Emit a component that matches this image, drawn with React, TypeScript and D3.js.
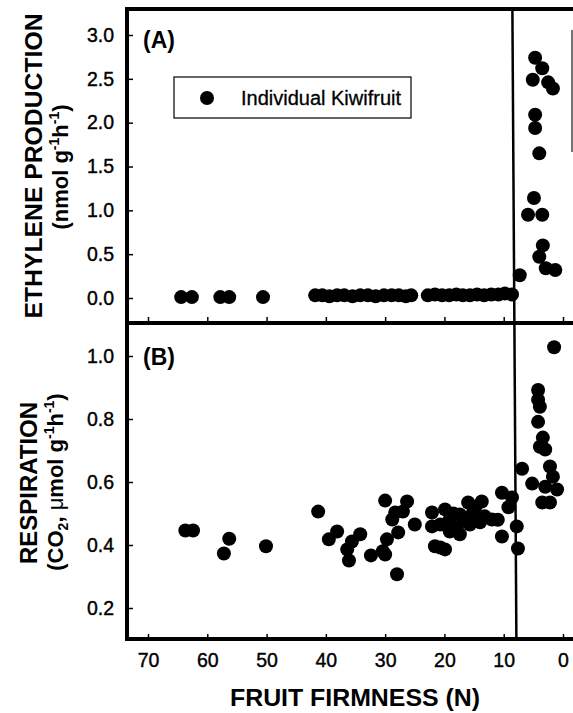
import React, { useEffect, useRef } from 'react';
import * as d3 from 'd3';

// Panel A: ethylene production vs fruit firmness
const ethyleneFirmness = [
  64.4, 62.6, 57.8, 56.3, 50.6,
  41.8, 40.6, 39.4, 38.1, 36.9, 35.5, 34.2, 32.9, 31.6, 30.2, 28.9, 27.7, 26.5, 25.6,
  22.8, 21.6, 20.4, 19.2, 18.0, 16.9, 15.7, 14.5, 13.3, 12.1, 10.9, 9.8, 8.6,
  7.3, 5.9, 3.5, 4.9, 4.0, 4.7, 4.7, 4.7, 3.5, 5.1, 2.5, 1.7, 3.4, 4.0, 2.9, 1.3,
];
const ethyleneValues = [
  0.01, 0.01, 0.01, 0.01, 0.01,
  0.03, 0.03, 0.02, 0.03, 0.03, 0.02, 0.03, 0.03, 0.02, 0.03, 0.03, 0.03, 0.02, 0.03,
  0.03, 0.04, 0.03, 0.03, 0.04, 0.03, 0.03, 0.04, 0.03, 0.04, 0.04, 0.05, 0.04,
  0.26, 0.95, 0.95, 1.14, 1.65, 1.94, 2.09, 2.74, 2.62, 2.49, 2.46, 2.39, 0.6, 0.47, 0.34, 0.32,
];

// Panel B: respiration vs fruit firmness
const respFirmness = [
  63.7, 62.4, 56.3, 57.2, 50.1,
  41.3, 38.1, 39.5, 34.2, 35.6, 36.4, 36.1, 32.4, 30.0, 29.7, 28.8, 28.0, 30.0, 26.3, 28.3,
  27.0, 25.0, 27.8, 30.4,
  22.1, 19.9, 22.1, 20.7, 21.6, 19.9, 16.0, 13.7, 17.4, 19.1, 15.2, 13.2, 12.0, 17.9, 15.7,
  14.0, 17.4, 20.7, 19.1, 18.5, 16.5, 14.8, 11.0,
  10.3, 8.6, 9.2, 7.8, 10.3, 7.6,
  6.9, 5.2, 3.0, 1.0, 3.5, 2.2, 2.2, 1.7,
  1.5, 4.2, 4.2, 3.9, 4.2, 3.4, 3.9, 3.0,
];
const respValues = [
  0.446, 0.446, 0.42, 0.373, 0.396,
  0.506, 0.443, 0.418, 0.434, 0.411, 0.386, 0.351, 0.367, 0.37, 0.418, 0.481, 0.307, 0.541, 0.538, 0.503,
  0.506, 0.465, 0.44, 0.38,
  0.503, 0.513, 0.459, 0.392, 0.396, 0.386, 0.535, 0.538, 0.497, 0.481, 0.503, 0.491, 0.481, 0.456, 0.465,
  0.472, 0.434, 0.465, 0.443, 0.5, 0.48, 0.52, 0.48,
  0.566, 0.551, 0.52, 0.459, 0.427, 0.389,
  0.642, 0.595, 0.585, 0.576, 0.535, 0.535, 0.649, 0.617,
  1.028, 0.892, 0.861, 0.839, 0.791, 0.741, 0.712, 0.703,
];

const xTicks = [70, 60, 50, 40, 30, 20, 10, 0];
const ethyleneTicks = [0, 0.5, 1.0, 1.5, 2.0, 2.5, 3.0];
const respTicks = [0.2, 0.4, 0.6, 0.8, 1.0];
const dividerFirmness = 8.2;

const FONT = '"Liberation Sans", Arial, Helvetica, sans-serif';

const App = () => {
  const svgRef = useRef<SVGSVGElement>(null);

  useEffect(() => {
    const svg = d3.select(svgRef.current);
    svg.selectAll('*').remove();

    const width = 573;
    const height = 713;
    const left = 127;
    const right = 573;
    const topA = 9;
    const mid = 323;
    const bottom = 639;

    const x = d3.scaleLinear().domain([70, 0]).range([148, 563]);
    const yA = d3.scaleLinear().domain([0, 3]).range([298, 35]);
    const yB = d3.scaleLinear().domain([0.2, 1.0]).range([608, 356]);

    svg.attr('width', width).attr('height', height).style('font-family', FONT);

    // Y axes (ticks pointing inward)
    const axisA = svg.append('g')
      .attr('transform', `translate(${left},0)`)
      .call(d3.axisLeft(yA).tickValues(ethyleneTicks).tickSize(-6).tickPadding(13).tickFormat(d3.format('.1f')));
    const axisB = svg.append('g')
      .attr('transform', `translate(${left},0)`)
      .call(d3.axisLeft(yB).tickValues(respTicks).tickSize(-6).tickPadding(13).tickFormat(d3.format('.1f')));

    // X axes at bottom of each panel
    const axisXA = svg.append('g')
      .attr('transform', `translate(0,${mid - 1})`)
      .call(d3.axisBottom(x).tickValues(xTicks).tickSize(-5).tickFormat(() => ''));
    const axisXB = svg.append('g')
      .attr('transform', `translate(0,${bottom})`)
      .call(d3.axisBottom(x).tickValues(xTicks).tickSize(-5).tickPadding(14).tickFormat(d3.format('d')));

    [axisA, axisB, axisXA, axisXB].forEach(g => {
      g.select('.domain').remove();
      g.selectAll('line').attr('stroke', '#000').attr('stroke-width', 1.5);
      g.selectAll('text')
        .attr('fill', '#000')
        .attr('stroke', '#000')
        .attr('stroke-width', 0.4)
        .style('font-family', FONT)
        .style('font-size', '19.5px');
    });

    // Frame
    const frame = svg.append('g').attr('stroke', '#000').attr('stroke-width', 4).attr('fill', 'none');
    frame.append('line').attr('x1', left).attr('x2', left).attr('y1', topA - 2).attr('y2', bottom + 2);
    frame.append('line').attr('x1', left).attr('x2', right).attr('y1', topA).attr('y2', topA);
    frame.append('line').attr('x1', left).attr('x2', right).attr('y1', mid).attr('y2', mid);
    frame.append('line').attr('x1', left).attr('x2', right).attr('y1', bottom).attr('y2', bottom);

    // partial right border left by the scan
    svg.append('line')
      .attr('x1', 572).attr('x2', 572).attr('y1', 30).attr('y2', 152)
      .attr('stroke', '#444').attr('stroke-width', 1.5);

    // Vertical divider line
    svg.append('line')
      .attr('x1', x(dividerFirmness) - 2).attr('x2', x(dividerFirmness) + 2)
      .attr('y1', topA).attr('y2', bottom)
      .attr('stroke', '#000').attr('stroke-width', 2.5);

    // Points
    const r = 7;
    svg.append('g')
      .selectAll('circle')
      .data(ethyleneFirmness.map((f, i) => [f, ethyleneValues[i]]))
      .join('circle')
      .attr('cx', d => x(d[0]))
      .attr('cy', d => yA(d[1]))
      .attr('r', r)
      .attr('fill', '#000');

    svg.append('g')
      .selectAll('circle')
      .data(respFirmness.map((f, i) => [f, respValues[i]]))
      .join('circle')
      .attr('cx', d => x(d[0]))
      .attr('cy', d => yB(d[1]))
      .attr('r', r)
      .attr('fill', '#000');

    // Panel labels
    svg.append('text').attr('x', 143).attr('y', 48)
      .style('font-size', '23px').style('font-weight', 'bold').text('(A)');
    svg.append('text').attr('x', 143).attr('y', 365)
      .style('font-size', '23px').style('font-weight', 'bold').text('(B)');

    // Legend
    const legend = svg.append('g');
    legend.append('rect')
      .attr('x', 174).attr('y', 77).attr('width', 237).attr('height', 41)
      .attr('fill', '#fff').attr('stroke', '#000').attr('stroke-width', 1.2);
    legend.append('circle').attr('cx', 207).attr('cy', 98).attr('r', r).attr('fill', '#000');
    legend.append('text').attr('x', 241).attr('y', 105)
      .attr('stroke', '#000').attr('stroke-width', 0.3)
      .attr('textLength', 160).attr('lengthAdjust', 'spacingAndGlyphs')
      .style('font-size', '20px').text('Individual Kiwifruit');

    // Y titles
    const ytitle = (tx: number, ty: number) =>
      svg.append('text')
        .attr('transform', `translate(${tx},${ty}) rotate(-90)`)
        .attr('text-anchor', 'middle')
        .style('font-weight', 'bold');

    ytitle(42, 166).style('font-size', '24px')
      .attr('textLength', 305).attr('lengthAdjust', 'spacingAndGlyphs')
      .text('ETHYLENE PRODUCTION');

    const unitA = ytitle(68, 167).style('font-size', '22px');
    unitA.append('tspan').text('(nmol g');
    unitA.append('tspan').attr('dy', -9).style('font-size', '14px').text('-1');
    unitA.append('tspan').attr('dy', 9).text('h');
    unitA.append('tspan').attr('dy', -9).style('font-size', '14px').text('-1');
    unitA.append('tspan').attr('dy', 9).text(')');

    ytitle(37, 483).style('font-size', '24px').text('RESPIRATION');

    const unitB = ytitle(63, 482).style('font-size', '22px');
    unitB.append('tspan').text('(CO');
    unitB.append('tspan').attr('dy', 5).style('font-size', '14px').text('2');
    unitB.append('tspan').attr('dy', -5).text(', ');
    unitB.append('tspan').style('font-weight', 'normal').text('\u03bc');
    unitB.append('tspan').text('mol g');
    unitB.append('tspan').attr('dy', -9).style('font-size', '14px').text('-1');
    unitB.append('tspan').attr('dy', 9).text('h');
    unitB.append('tspan').attr('dy', -9).style('font-size', '14px').text('-1');
    unitB.append('tspan').attr('dy', 9).text(')');

    // X title
    svg.append('text')
      .attr('x', 355).attr('y', 706)
      .attr('text-anchor', 'middle')
      .attr('textLength', 250).attr('lengthAdjust', 'spacingAndGlyphs')
      .style('font-size', '24px').style('font-weight', 'bold')
      .text('FRUIT FIRMNESS (N)');
  }, []);

  return (
    <div style={{ position: 'absolute', left: 0, top: 0, background: '#fff' }}>
      <svg ref={svgRef}></svg>
    </div>
  );
};

export default App;
